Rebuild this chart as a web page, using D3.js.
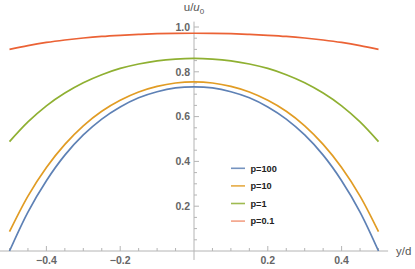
<html>
  <head>
    <script src="https://d3js.org/d3.v7.min.js"></script>
  </head>
  <style>
  body { margin: 0; background: white; }
  text { font-family: "Liberation Sans", Arial, sans-serif; }
  </style>
  <body>
    <svg id="plot" width="415" height="269"></svg>
    <script>
    // values (y/d, u/u0), curves are symmetric
    const yd = [-0.5, -0.45, -0.4, -0.35, -0.3, -0.25, -0.2, -0.15, -0.1, -0.05, 0,
                0.05, 0.1, 0.15, 0.2, 0.25, 0.3, 0.35, 0.4, 0.45, 0.5];
    const p100 = [0.000, 0.174, 0.314, 0.428, 0.518, 0.589, 0.643, 0.684, 0.711, 0.728, 0.733,
                  0.728, 0.711, 0.684, 0.643, 0.589, 0.518, 0.428, 0.314, 0.174, 0.000];
    const p10  = [0.086, 0.245, 0.373, 0.476, 0.559, 0.624, 0.673, 0.710, 0.735, 0.750, 0.755,
                  0.750, 0.735, 0.710, 0.673, 0.624, 0.559, 0.476, 0.373, 0.245, 0.086];
    const p1   = [0.488, 0.576, 0.648, 0.705, 0.751, 0.787, 0.815, 0.835, 0.849, 0.857, 0.860,
                  0.857, 0.849, 0.835, 0.815, 0.787, 0.751, 0.705, 0.648, 0.576, 0.488];
    const p01  = [0.900, 0.917, 0.931, 0.942, 0.951, 0.958, 0.963, 0.967, 0.970, 0.9715, 0.972,
                  0.9715, 0.970, 0.967, 0.963, 0.958, 0.951, 0.942, 0.931, 0.917, 0.900];
    const seriesNames = ["p=100", "p=10", "p=1", "p=0.1"];
    const seriesVals = [p100, p10, p1, p01];
    const colors = ["#5e81b5", "#e19c24", "#8fb032", "#eb6235"];

    const xMajor = [-0.4, -0.2, 0.2, 0.4];
    const xLabels = ["\u22120.4", "\u22120.2", "0.2", "0.4"];
    const yMajor = [0.2, 0.4, 0.6, 0.8, 1.0];
    const yLabels = ["0.2", "0.4", "0.6", "0.8", "1.0"];

    const svg = d3.select("#plot");
    const x = d3.scaleLinear().domain([-0.5, 0.5]).range([9.5, 378.5]);
    const y = d3.scaleLinear().domain([0, 1]).range([251, 27]);
    const axisCol = "#b4b4b4";

    // axes lines
    const ax = svg.append("g");
    ax.append("line")
      .attr("x1", x(-0.526)).attr("x2", x(0.526))
      .attr("y1", y(0)).attr("y2", y(0))
      .attr("stroke", axisCol).attr("stroke-width", 1);
    ax.append("line")
      .attr("x1", x(0)).attr("x2", x(0))
      .attr("y1", y(-0.04)).attr("y2", y(1.024))
      .attr("stroke", axisCol).attr("stroke-width", 1);

    // minor ticks every 0.05
    const xMinor = d3.range(-10, 11).map(i => i * 0.05).filter(v => Math.abs(v) > 1e-9);
    const yMinor = d3.range(1, 21).map(i => i * 0.05);
    const isMajor = v => Math.abs(v * 5 - Math.round(v * 5)) < 1e-6;

    ax.selectAll("line.xt").data(xMinor).enter().append("line")
      .attr("class", "xt")
      .attr("x1", d => x(d)).attr("x2", d => x(d))
      .attr("y1", y(0)).attr("y2", d => y(0) - (isMajor(d) ? 5 : 3))
      .attr("stroke", axisCol);
    ax.selectAll("line.yt").data(yMinor).enter().append("line")
      .attr("class", "yt")
      .attr("y1", d => y(d)).attr("y2", d => y(d))
      .attr("x1", x(0)).attr("x2", d => x(0) + (isMajor(d) ? 5 : 3))
      .attr("stroke", axisCol);

    // tick labels
    ax.selectAll("text.xl").data(xMajor).enter().append("text")
      .attr("class", "xl")
      .attr("x", d => x(d)).attr("y", 263.5)
      .attr("text-anchor", "middle")
      .attr("font-size", 10.5).attr("font-weight", "bold").attr("fill", "#666")
      .text((d, i) => xLabels[i]);
    ax.selectAll("text.yl").data(yMajor).enter().append("text")
      .attr("class", "yl")
      .attr("x", x(0) - 4).attr("y", d => y(d) + 3.8)
      .attr("text-anchor", "end")
      .attr("font-size", 10.5).attr("font-weight", "bold").attr("fill", "#666")
      .text((d, i) => yLabels[i]);

    // axis labels
    const yLab = ax.append("text")
      .attr("x", x(0)).attr("y", 11)
      .attr("text-anchor", "middle")
      .attr("font-size", 11.5).attr("fill", "#555");
    yLab.append("tspan").text("u/");
    yLab.append("tspan").attr("font-style", "italic").text("u");
    yLab.append("tspan").attr("font-size", 8).attr("dy", 2.5).text("0");
    ax.append("text")
      .attr("x", 396).attr("y", y(0) + 4)
      .attr("font-size", 11.5).attr("fill", "#555")
      .text("y/d");

    // curves
    const line = d3.line()
      .x((d, i) => x(yd[i]))
      .y(d => y(d))
      .curve(d3.curveCatmullRom.alpha(0.5));
    svg.append("g").selectAll("path").data(seriesVals).enter().append("path")
      .attr("d", d => line(d))
      .attr("fill", "none")
      .attr("stroke", (d, i) => colors[i])
      .attr("stroke-width", 1.7);

    // legend
    const leg = svg.append("g");
    seriesNames.forEach(function(name, i) {
      const cy = 168.3 + i * 17.6;
      leg.append("line")
        .attr("x1", 231).attr("x2", 245).attr("y1", cy).attr("y2", cy)
        .attr("stroke", colors[i]).attr("stroke-width", 1.6)
        .attr("opacity", i === 3 ? 0.6 : 0.85);
      leg.append("text")
        .attr("x", 250.5).attr("y", cy + 3.3)
        .attr("font-size", 9.2).attr("font-weight", "bold").attr("fill", "#222")
        .text(name);
    });
    </script>
  </body>
</html>
